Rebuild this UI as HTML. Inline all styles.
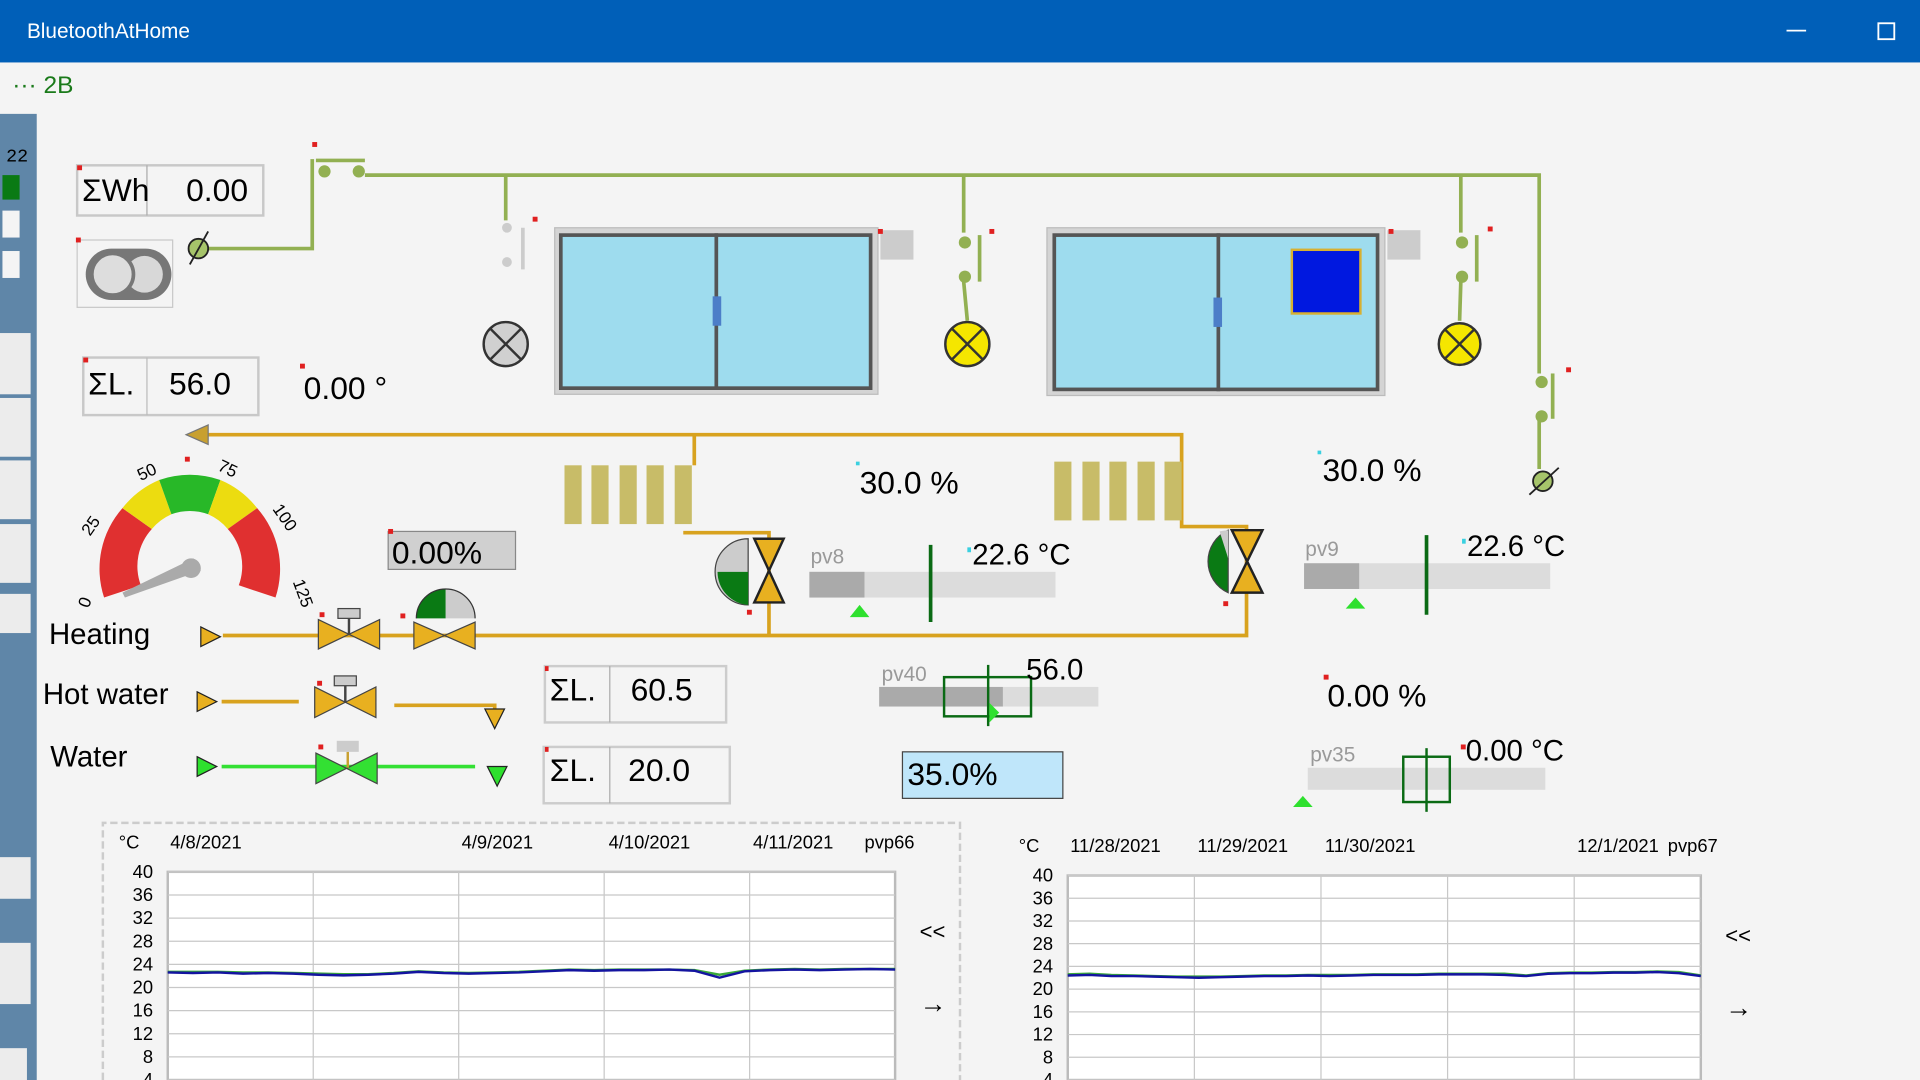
<!DOCTYPE html>
<html><head><meta charset="utf-8"><style>
html,body{margin:0;padding:0;width:1920px;height:1080px;overflow:hidden;background:#f4f4f4}
svg{display:block;font-family:"Liberation Sans",sans-serif;overflow:hidden}
</style></head><body>
<svg id="s" width="1920" height="1080" viewBox="0 0 1568 882">
<rect x="0" y="0" width="1568" height="882" fill="#f4f4f4"/>
<g>
<rect x="0" y="0" width="1568" height="51" fill="#005fb8"/>
<text x="22" y="31" fill="#fff" font-size="17">BluetoothAtHome</text>
<line x1="1459" y1="25" x2="1475" y2="25" stroke="#fff" stroke-width="1.5"/>
<rect x="1534" y="19" width="13" height="13" fill="none" stroke="#fff" stroke-width="1.5"/>
</g>
<text x="10" y="76" font-size="20" fill="#1a7a1a">··· 2B</text>
<g>
<rect x="0" y="93" width="30" height="789" fill="#5f86a8"/>
<text x="5" y="132" font-size="15" fill="#000" font-family="Liberation Mono">22</text>
<rect x="2" y="143" width="14" height="20" fill="#0a7a14"/>
<rect x="2" y="172" width="14" height="22" fill="#f4f4f4"/>
<rect x="2" y="205" width="14" height="22" fill="#f4f4f4"/>
<rect x="0" y="272" width="25" height="50" fill="#ececec"/>
<rect x="0" y="325" width="25" height="48" fill="#ececec"/>
<rect x="0" y="376" width="25" height="48" fill="#ececec"/>
<rect x="0" y="428" width="25" height="48" fill="#ececec"/>
<rect x="0" y="485" width="25" height="32" fill="#ececec"/>
<rect x="0" y="700" width="25" height="34" fill="#ececec"/>
<rect x="0" y="770" width="25" height="50" fill="#ececec"/>
<rect x="0" y="856" width="22" height="26" fill="#ececec"/>
</g>

<g stroke="#92b052" stroke-width="3" fill="none">
<polyline points="170,203 255,203 255,130"/>
<line x1="258" y1="131" x2="298" y2="131"/>
<polyline points="298,143 1257,143 1257,305"/>
<line x1="1257" y1="340" x2="1257" y2="383"/>
<line x1="413" y1="143" x2="413" y2="180"/>
<line x1="787" y1="143" x2="787" y2="190"/>
<line x1="1193" y1="143" x2="1193" y2="190"/>
<line x1="787" y1="230" x2="790" y2="262"/>
<line x1="1193" y1="230" x2="1192" y2="262"/>
</g>
<circle cx="265" cy="140" r="5" fill="#92b052"/><circle cx="293" cy="140" r="5" fill="#92b052"/>
<rect x="255" y="116" width="4" height="4" fill="#e02020"/>
<circle cx="414" cy="186" r="4" fill="#ccc"/><circle cx="414" cy="214" r="4" fill="#ccc"/>
<line x1="427" y1="186" x2="427" y2="220" stroke="#ccc" stroke-width="3"/>
<rect x="435" y="177" width="4" height="4" fill="#e02020"/>
<circle cx="788" cy="198" r="5" fill="#92b052"/><circle cx="788" cy="226" r="5" fill="#92b052"/>
<line x1="800" y1="192" x2="800" y2="230" stroke="#92b052" stroke-width="3"/>
<rect x="808" y="187" width="4" height="4" fill="#e02020"/>
<circle cx="1194" cy="198" r="5" fill="#92b052"/><circle cx="1194" cy="226" r="5" fill="#92b052"/>
<line x1="1206" y1="192" x2="1206" y2="230" stroke="#92b052" stroke-width="3"/>
<rect x="1215" y="185" width="4" height="4" fill="#e02020"/>
<circle cx="1259" cy="312" r="5" fill="#92b052"/><circle cx="1259" cy="340" r="5" fill="#92b052"/>
<line x1="1268" y1="305" x2="1268" y2="342" stroke="#92b052" stroke-width="3"/>
<rect x="1279" y="300" width="4" height="4" fill="#e02020"/>
<g><circle cx="413" cy="281" r="18" fill="#d0d0d0" stroke="#333" stroke-width="2"/><path d="M400 268L426 294M426 268L400 294" stroke="#333" stroke-width="2"/></g>
<g><circle cx="790" cy="281" r="18" fill="#f5e600" stroke="#333" stroke-width="2"/><path d="M777 268L803 294M803 268L777 294" stroke="#333" stroke-width="2"/></g>
<g><circle cx="1192" cy="281" r="17" fill="#f5e600" stroke="#333" stroke-width="2"/><path d="M1180 269L1204 293M1204 269L1180 293" stroke="#333" stroke-width="2"/></g>
<g><circle cx="162" cy="203" r="8" fill="#a6c46a" stroke="#222" stroke-width="1.5"/><line x1="155" y1="216" x2="170" y2="189" stroke="#222" stroke-width="1.5"/></g>
<g><circle cx="1260" cy="393" r="8" fill="#a6c46a" stroke="#222" stroke-width="1.5"/><line x1="1249" y1="404" x2="1273" y2="382" stroke="#222" stroke-width="1.5"/></g>

<g>
<rect x="63" y="135" width="152" height="41" fill="#f4f4f4" stroke="#c8c8c8" stroke-width="2"/><line x1="120" y1="135" x2="120" y2="176" stroke="#aaa"/>
<rect x="63" y="135" width="4" height="4" fill="#e02020"/>
<text x="67" y="164" font-size="26">ΣWh</text><text x="152" y="164" font-size="26">0.00</text></g>
<g>
<rect x="63" y="196" width="78" height="55" fill="#f4f4f4" stroke="#c8c8c8"/>
<rect x="62" y="194" width="4" height="4" fill="#e02020"/>
<rect x="70" y="203" width="70" height="42" rx="21" fill="#777"/>
<circle cx="118" cy="224" r="15" fill="#d8d8d8"/><circle cx="92" cy="224" r="17" fill="#ddd" stroke="#777" stroke-width="3"/></g>

<g>
<rect x="453" y="186" width="264" height="136" fill="#d4d4d4" stroke="#bbb"/>
<rect x="458" y="192" width="127" height="125" fill="#9edcee" stroke="#555" stroke-width="3"/>
<rect x="585" y="192" width="126" height="125" fill="#9edcee" stroke="#555" stroke-width="3"/>
<rect x="582" y="242" width="7" height="24" fill="#4c7ec8"/>
<rect x="719" y="188" width="27" height="24" fill="#ccc"/><rect x="717" y="187" width="4" height="4" fill="#e02020"/></g>
<g>
<rect x="855" y="186" width="276" height="137" fill="#d4d4d4" stroke="#bbb"/>
<rect x="861" y="192" width="134" height="126" fill="#9edcee" stroke="#555" stroke-width="3"/>
<rect x="995" y="192" width="130" height="126" fill="#9edcee" stroke="#555" stroke-width="3"/>
<rect x="991" y="243" width="7" height="24" fill="#4c7ec8"/>
<rect x="1055" y="204" width="56" height="52" fill="#0018e0" stroke="#d8b030" stroke-width="2"/>
<rect x="1133" y="188" width="27" height="24" fill="#ccc"/><rect x="1134" y="187" width="4" height="4" fill="#e02020"/></g>

<g>
<rect x="68" y="292" width="143" height="47" fill="#f4f4f4" stroke="#c8c8c8" stroke-width="2"/><line x1="120" y1="292" x2="120" y2="339" stroke="#bbb"/>
<rect x="68" y="292" width="4" height="4" fill="#e02020"/>
<text x="72" y="322" font-size="26">ΣL.</text><text x="138" y="322" font-size="26">56.0</text></g>
<rect x="245" y="297" width="4" height="4" fill="#e02020"/>
<text x="248" y="326" font-size="26">0.00 °</text>

<g stroke="#d8a21e" stroke-width="3" fill="none">
<polyline points="170,355 965,355 965,430 1018,430 1018,519 182,519"/>
<polyline points="567,355 567,380"/>
<polyline points="558,435 628,435 628,519"/>
<polyline points="181,573 244,573"/><polyline points="322,576 404,576 404,583"/>
</g>
<polygon points="152,355 170,347 170,363" fill="#c8a030" stroke="#777"/>
<g fill="#c8bc68">
<rect x="461" y="380" width="14" height="48"/><rect x="483" y="380" width="14" height="48"/><rect x="506" y="380" width="14" height="48"/><rect x="528" y="380" width="14" height="48"/><rect x="551" y="380" width="14" height="48"/></g>
<g fill="#c8bc68">
<rect x="861" y="377" width="14" height="48"/><rect x="884" y="377" width="14" height="48"/><rect x="906" y="377" width="14" height="48"/><rect x="929" y="377" width="14" height="48"/><rect x="951" y="377" width="14" height="48"/></g>
<rect x="699" y="377" width="3" height="3" fill="#3ad0e0"/>
<text x="702" y="403" font-size="26">30.0 %</text>
<rect x="1076" y="368" width="3" height="3" fill="#3ad0e0"/>
<text x="1080" y="393" font-size="26">30.0 %</text>

<g>
<path d="M85 488 A75 75 0 0 1 100 415 L124 432 A45 45 0 0 0 115 478 Z" fill="#e03030"/>
<path d="M100 415 A75 75 0 0 1 130 392 L140 420 A45 45 0 0 0 124 432 Z" fill="#ecdc10"/>
<path d="M130 392 A75 75 0 0 1 180 392 L170 420 A45 45 0 0 0 140 420 Z" fill="#28b828"/>
<path d="M180 392 A75 75 0 0 1 210 415 L186 432 A45 45 0 0 0 170 420 Z" fill="#ecdc10"/>
<path d="M210 415 A75 75 0 0 1 225 488 L195 478 A45 45 0 0 0 186 432 Z" fill="#e03030"/>
<polygon points="100,484 158,456 164,466 102,488" fill="#aaa"/><circle cx="156" cy="464" r="8" fill="#aaa"/>
<g font-size="14"><text x="66" y="496" transform="rotate(-70 70 492)">0</text><text x="66" y="436" transform="rotate(-55 72 430)">25</text><text x="112" y="390" transform="rotate(-25 120 385)">50</text><text x="178" y="387" transform="rotate(25 185 383)">75</text><text x="222" y="424" transform="rotate(55 230 420)">100</text><text x="230" y="480" transform="rotate(70 238 484)">125</text></g>
<rect x="151" y="373" width="4" height="4" fill="#e02020"/></g>

<g>
<rect x="317" y="434" width="104" height="31" fill="#d0d0d0" stroke="#888"/>
<rect x="317" y="432" width="4" height="4" fill="#e02020"/>
<text x="320" y="460" font-size="26">0.00%</text></g>
<g>
<path d="M340 505 A24 24 0 0 1 364 481 L364 505 Z" fill="#0a7a14"/><path d="M364 481 A24 24 0 0 1 388 505 L364 505Z" fill="#ccc"/><path d="M340 505 A24 24 0 0 1 388 505" fill="none" stroke="#333"/></g>

<text x="40" y="526" font-size="24">Heating</text>
<text x="35" y="575" font-size="24">Hot water</text>
<text x="41" y="626" font-size="24">Water</text>
<polygon points="164,512 180,520 164,528" fill="#e8b020" stroke="#222"/>
<polygon points="161,565 177,573 161,581" fill="#e8b020" stroke="#222"/>
<polygon points="161,618 177,626 161,634" fill="#2ee02e" stroke="#222"/>
<polygon points="396,579 412,579 404,595" fill="#e8b020" stroke="#222"/>
<polygon points="398,626 414,626 406,642" fill="#2ee02e" stroke="#222"/>
<line x1="181" y1="626" x2="388" y2="626" stroke="#33e033" stroke-width="3"/>
<g><polygon points="260,506 310,530 310,506 260,530" fill="#e8b020" stroke="#444"/><line x1="285" y1="518" x2="285" y2="504" stroke="#444" stroke-width="2"/><rect x="276" y="497" width="18" height="8" fill="#ccc" stroke="#444"/><rect x="261" y="500" width="4" height="4" fill="#e02020"/></g>
<g><polygon points="338,508 388,530 388,508 338,530" fill="#e8b020" stroke="#444"/><rect x="327" y="501" width="4" height="4" fill="#e02020"/></g>
<g><polygon points="257,561 307,586 307,561 257,586" fill="#e8b020" stroke="#444"/><line x1="282" y1="573" x2="282" y2="560" stroke="#444" stroke-width="2"/><rect x="273" y="552" width="18" height="8" fill="#ccc" stroke="#444"/><rect x="259" y="556" width="4" height="4" fill="#e02020"/></g>
<g><polygon points="258,615 308,640 308,615 258,640" fill="#33e033" stroke="#444"/><line x1="284" y1="627" x2="284" y2="614" stroke="#c8a030" stroke-width="2"/><rect x="275" y="605" width="18" height="9" fill="#ccc"/><rect x="260" y="608" width="4" height="4" fill="#e02020"/></g>

<g><rect x="445" y="544" width="148" height="46" fill="#f4f4f4" stroke="#ccc" stroke-width="2"/><line x1="498" y1="544" x2="498" y2="590" stroke="#aaa"/><rect x="445" y="544" width="3" height="4" fill="#e02020"/><text x="449" y="572" font-size="26">ΣL.</text><text x="515" y="572" font-size="26">60.5</text></g>
<g><rect x="444" y="610" width="152" height="46" fill="#f4f4f4" stroke="#ccc" stroke-width="2"/><line x1="498" y1="610" x2="498" y2="656" stroke="#aaa"/><rect x="445" y="610" width="3" height="4" fill="#e02020"/><text x="449" y="638" font-size="26">ΣL.</text><text x="513" y="638" font-size="26">20.0</text></g>

<g><path d="M611 440 A27 27 0 0 0 611 494 Z" fill="#ccc" stroke="#444"/><path d="M586 467 A27 27 0 0 0 611 494 L611 467Z" fill="#0a7a14"/><polygon points="616,440 640,440 616,492 640,492" fill="#e8b020" stroke="#222" stroke-width="2"/><rect x="610" y="498" width="4" height="4" fill="#e02020"/></g>
<g><path d="M1003 433 A28 28 0 0 0 1003 484 Z" fill="#0a7a14" stroke="#444"/><path d="M996 434 A28 28 0 0 1 1003 433 L1003 456 Z" fill="#ccc"/><polygon points="1006,433 1031,433 1006,484 1031,484" fill="#e8b020" stroke="#222" stroke-width="2"/><rect x="999" y="491" width="4" height="4" fill="#e02020"/></g>

<g><text x="662" y="460" font-size="17" fill="#999">pv8</text><rect x="661" y="467" width="201" height="21" fill="#dcdcdc"/><rect x="661" y="467" width="45" height="21" fill="#aaa"/><line x1="760" y1="445" x2="760" y2="508" stroke="#0a6a14" stroke-width="3"/><polygon points="702,494 710,504 694,504" fill="#2ee02e"/></g>
<rect x="790" y="447" width="3" height="4" fill="#3ad0e0"/><text x="794" y="461" font-size="24">22.6 °C</text>
<g><text x="1066" y="454" font-size="17" fill="#999">pv9</text><rect x="1065" y="460" width="201" height="21" fill="#dcdcdc"/><rect x="1065" y="460" width="45" height="21" fill="#aaa"/><line x1="1165" y1="437" x2="1165" y2="502" stroke="#0a6a14" stroke-width="3"/><polygon points="1107,488 1115,497 1099,497" fill="#2ee02e"/></g>
<rect x="1194" y="440" width="3" height="4" fill="#3ad0e0"/><text x="1198" y="454" font-size="24">22.6 °C</text>
<g><text x="720" y="556" font-size="17" fill="#999">pv40</text><rect x="718" y="561" width="179" height="16" fill="#dcdcdc"/><rect x="718" y="561" width="101" height="16" fill="#aaa"/><rect x="771" y="553" width="71" height="32" fill="none" stroke="#0a6a14" stroke-width="2"/><line x1="807" y1="543" x2="807" y2="593" stroke="#0a6a14" stroke-width="2"/><polygon points="808,574 816,582 808,590" fill="#2ee02e"/></g>
<text x="838" y="555" font-size="24">56.0</text>
<rect x="737" y="614" width="131" height="38" fill="#bfe6fa" stroke="#444"/>
<text x="741" y="641" font-size="26">35.0%</text>
<rect x="1081" y="551" width="4" height="4" fill="#e02020"/><text x="1084" y="577" font-size="26">0.00 %</text>
<g><text x="1070" y="622" font-size="17" fill="#999">pv35</text><rect x="1068" y="627" width="194" height="18" fill="#dcdcdc"/><rect x="1146" y="618" width="38" height="37" fill="none" stroke="#0a6a14" stroke-width="2"/><line x1="1165" y1="611" x2="1165" y2="663" stroke="#0a6a14" stroke-width="2"/><polygon points="1064,650 1072,659 1056,659" fill="#2ee02e"/></g>
<rect x="1193" y="608" width="4" height="4" fill="#e02020"/><text x="1197" y="621" font-size="24">0.00 °C</text>

<g id="charts"></g>
</svg>
<script>
const yTicks = [40,36,32,28,24,20,16,12,8,4];
const chart1Dates = ["4/8/2021","4/9/2021","4/10/2021","4/11/2021"];
const chart1Name = "pvp66";
const chart1Blue = [22.6,22.5,22.6,22.4,22.5,22.4,22.2,22.1,22.2,22.4,22.7,22.5,22.4,22.5,22.6,22.8,23.0,22.9,23.0,23.0,23.1,22.9,21.7,22.8,23.0,23.1,23.0,23.1,23.2,23.1];
const chart1Green = [22.7,22.7,22.7,22.6,22.6,22.5,22.4,22.3,22.3,22.5,22.8,22.6,22.5,22.6,22.7,22.9,23.1,23.0,23.1,23.1,23.1,23.0,22.2,22.9,23.1,23.2,23.1,23.2,23.2,23.2];
const chart2Dates = ["11/28/2021","11/29/2021","11/30/2021","12/1/2021"];
const chart2Name = "pvp67";
const chart2Blue = [22.4,22.5,22.3,22.3,22.2,22.1,22.0,22.1,22.2,22.3,22.3,22.4,22.3,22.4,22.5,22.5,22.5,22.6,22.6,22.6,22.5,22.3,22.7,22.8,22.8,22.9,22.9,23.0,22.8,22.3];
const chart2Green = [22.6,22.7,22.5,22.4,22.3,22.2,22.2,22.2,22.3,22.4,22.4,22.5,22.5,22.5,22.6,22.6,22.6,22.7,22.7,22.7,22.7,22.4,22.8,22.9,22.9,23.0,23.0,23.1,23.0,22.4];
const NS='http://www.w3.org/2000/svg';
const root=document.getElementById('charts');
function mk(tag,attrs,parent){const e=document.createElementNS(NS,tag);for(const k in attrs)e.setAttribute(k,attrs[k]);parent.appendChild(e);return e;}
function drawChart(o){
  const g=mk('g',{},root);
  
  
  if(o.dash) mk('path',{d:`M${o.fx} 882 V${o.fy} H${o.fx+o.fw} V882`,fill:'none',stroke:'#ccc','stroke-width':2,'stroke-dasharray':'6 3'},g);
  const yS=v=>o.y0+(40-v)/36*(882-o.y0);
  const xS=i=>o.x0+i/(o.blue.length-1)*(o.x1-o.x0);
  mk('rect',{x:o.x0,y:o.y0,width:o.x1-o.x0,height:882-o.y0,fill:'#fff',stroke:'#bbb','stroke-width':2},g);
  yTicks.forEach(t=>{
    const ln=mk('line',{x1:o.x0,x2:o.x1,y1:yS(t),y2:yS(t),stroke:'#c8c8c8'},g);
    
    const tx=mk('text',{x:o.x0-12,y:yS(t)+5,'font-size':15,'text-anchor':'end'},g);tx.textContent=t;
    
  });
  for(let k=1;k<5;k++){const x=o.x0+k*(o.x1-o.x0)/5;mk('line',{x1:x,x2:x,y1:o.y0,y2:882,stroke:'#c8c8c8'},g);}
  const u=mk('text',{x:o.x0-40,y:o.y0-19,'font-size':15},g);u.textContent='°C';
  o.dates.forEach((d,i)=>{const t=mk('text',{x:o.dx[i],y:o.y0-19,'font-size':15},g);t.textContent=d;
    });
  const n=mk('text',{x:o.nx,y:o.y0-19,'font-size':15},g);n.textContent=o.name;
  [[o.green,'#3aa83a'],[o.blue,'#1414a0']].forEach(([s,c])=>{
    const p=mk('polyline',{points:s.map((v,i)=>xS(i)+','+yS(v)).join(' '),fill:'none',stroke:c,'stroke-width':2},g);
    
  });
  const a=mk('text',{x:o.x1+20,y:o.y0+55,'font-size':18},g);a.textContent='<<';
  
  
  const b=mk('text',{x:o.x1+20,y:o.y0+115,'font-size':22},g);b.textContent='→';
  
  
}
drawChart({id:'trend-chart-pvp66',fx:84,fy:672,fw:700,dash:true,x0:137,x1:731,y0:712,dates:chart1Dates,dx:[139,377,497,615],name:chart1Name,nx:706,blue:chart1Blue,green:chart1Green});
drawChart({id:'trend-chart-pvp67',fx:818,fy:672,fw:0,dash:false,x0:872,x1:1389,y0:715,dates:chart2Dates,dx:[874,978,1082,1288],name:chart2Name,nx:1362,blue:chart2Blue,green:chart2Green});
</script>
</body></html>
